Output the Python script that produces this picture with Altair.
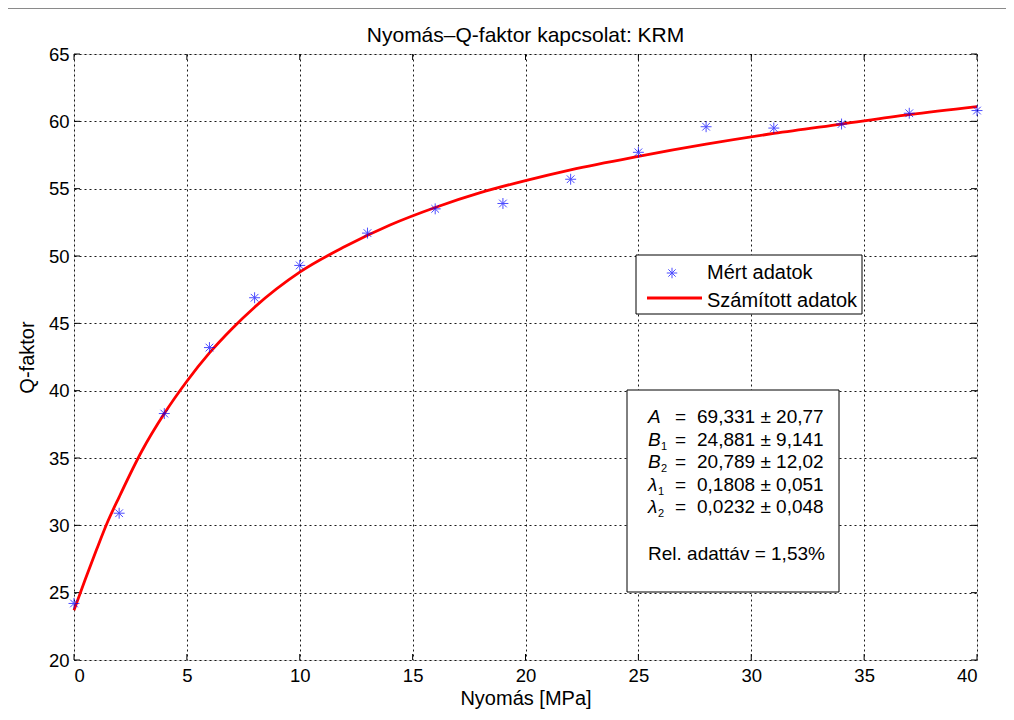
import altair as alt
import pandas as pd

# ---- data ----
pressure = [0, 2, 4, 6, 8, 10, 13, 16, 19, 22, 25, 28, 31, 34, 37, 40]
q_measured = [24.2, 30.9, 38.3, 43.2, 46.9, 49.3, 51.7, 53.5, 53.9, 55.7,
              57.7, 59.6, 59.5, 59.8, 60.6, 60.8]

fit_pressure = [0, 0.5, 1, 1.5, 2, 3, 4, 5, 6, 7, 8, 10, 12, 14, 16, 18,
                20, 22, 25, 28, 31, 34, 37, 40]
q_fit = [23.7, 26.0, 28.2, 30.3, 32.1, 35.5, 38.3, 40.7, 42.8, 44.6, 46.2,
         48.8, 50.7, 52.3, 53.6, 54.7, 55.6, 56.4, 57.4, 58.3, 59.1, 59.8,
         60.5, 61.1]

series_names = ["Mért adatok", "Számított adatok"]
param_symbols = ["A", "B", "B", "λ", "λ"]
param_subscripts = ["", "1", "2", "1", "2"]
param_values = ["69,331", "24,881", "20,789", "0,1808", "0,0232"]
param_errors = ["20,77", "9,141", "12,02", "0,051", "0,048"]
rel_range_label = "Rel. adattáv = 1,53%"

title_text = "Nyomás–Q-faktor kapcsolat: KRM"
x_title = "Nyomás [MPa]"
y_title = "Q-faktor"

x_ticks = list(range(0, 41, 5))
y_ticks = list(range(20, 66, 5))

# ---- layout / style ----
W, H = 903, 606
FONT = "Liberation Sans"
STAR = "M0,-1L0,1M-1,0L1,0M-0.7,-0.7L0.7,0.7M-0.7,0.7L0.7,-0.7"
BLUE = "#0000ff"
RED = "#ff0000"

df_pts = pd.DataFrame({"p": pressure, "q": q_measured})
df_fit = pd.DataFrame({"p": fit_pressure, "q": q_fit})
df_xt = pd.DataFrame({"p": x_ticks})
df_yt = pd.DataFrame({"q": y_ticks})
one = pd.DataFrame({"k": [0]})

xscale = alt.Scale(domain=[0, 40], nice=False, zero=False)
yscale = alt.Scale(domain=[20, 65], nice=False, zero=False)

xaxis = alt.Axis(values=x_ticks, title=x_title, grid=True, ticks=False, domain=False,
                 gridColor="black", gridDash=[2, 3], gridOpacity=0.9, gridWidth=1,
                 labelFont=FONT, labelFontSize=18.5, labelColor="black", labelPadding=6,
                 titleFont=FONT, titleFontSize=20, titleFontWeight="normal",
                 titleColor="black", titlePadding=4)
yaxis = alt.Axis(values=y_ticks, title=y_title, grid=True, ticks=False, domain=False,
                 gridColor="black", gridDash=[2, 3], gridOpacity=0.9, gridWidth=1,
                 labelFont=FONT, labelFontSize=18.5, labelColor="black", labelPadding=5,
                 titleFont=FONT, titleFontSize=20, titleFontWeight="normal",
                 titleColor="black", titlePadding=11)


def X(field="p"):
    return alt.X(f"{field}:Q", scale=xscale, axis=xaxis)


def Y(field="q"):
    return alt.Y(f"{field}:Q", scale=yscale, axis=yaxis)


# outer figure border (grey)
border = alt.Chart(one).mark_rect(fillOpacity=0, stroke="#8a8a8a", strokeWidth=2).encode(
    x=alt.value(-67), x2=alt.value(W + 120), y=alt.value(-46), y2=alt.value(H + 120))

# chart title
title = alt.Chart(one).mark_text(text=title_text, align="center", baseline="alphabetic",
                                 font=FONT, fontSize=21, color="black").encode(
    x=alt.value(W / 2), y=alt.value(-12))

# inward ticks on all four sides
tick_len = 6
t_bottom = alt.Chart(df_xt).mark_rule(color="black", strokeWidth=1).encode(
    x=X(), y=alt.value(H), y2=alt.value(H - tick_len))
t_top = alt.Chart(df_xt).mark_rule(color="black", strokeWidth=1).encode(
    x=X(), y=alt.value(0), y2=alt.value(tick_len))
t_left = alt.Chart(df_yt).mark_rule(color="black", strokeWidth=1).encode(
    y=Y(), x=alt.value(0), x2=alt.value(tick_len))
t_right = alt.Chart(df_yt).mark_rule(color="black", strokeWidth=1).encode(
    y=Y(), x=alt.value(W), x2=alt.value(W - tick_len))

fit_line = alt.Chart(df_fit).mark_line(color=RED, strokeWidth=2.8, interpolate="monotone").encode(
    x=X(), y=Y())

points = alt.Chart(df_pts).mark_point(shape=STAR, size=120, color=BLUE, filled=False,
                                      strokeWidth=1).encode(x=X(), y=Y())

# legend box
leg_box = alt.Chart(one).mark_rect(fill="white", stroke="black", strokeWidth=1).encode(
    x=alt.value(562), x2=alt.value(788), y=alt.value(201), y2=alt.value(260))
leg_star = alt.Chart(one).mark_point(shape=STAR, size=110, color=BLUE, filled=False,
                                     strokeWidth=1).encode(x=alt.value(598), y=alt.value(219))
leg_line = alt.Chart(one).mark_rule(color=RED, strokeWidth=2.8).encode(
    x=alt.value(573), x2=alt.value(628), y=alt.value(244))
leg_text = alt.Chart(one).mark_text(text=series_names, align="left", baseline="alphabetic",
                                    font=FONT, fontSize=20, lineHeight=28, color="black").encode(
    x=alt.value(633), y=alt.value(225))

# parameter box
par_box = alt.Chart(one).mark_rect(fill="white", stroke="black", strokeWidth=1).encode(
    x=alt.value(553), x2=alt.value(765), y=alt.value(336), y2=alt.value(538))
LH = 22.5
Y0 = 369
par_sym = alt.Chart(one).mark_text(text=param_symbols, align="left", baseline="alphabetic",
                                   font=FONT, fontSize=19, fontStyle="italic", lineHeight=LH,
                                   color="black").encode(x=alt.value(574), y=alt.value(Y0))

# subscripts: one small text per subscripted row
sub_layers = []
for i, (sym, sub) in enumerate(zip(param_symbols, param_subscripts)):
    if not sub:
        continue
    sx = 587 if sym == "B" else 584
    sub_layers.append(
        alt.Chart(one).mark_text(text=sub, align="left", baseline="alphabetic", font=FONT,
                                 fontSize=11, color="black").encode(
            x=alt.value(sx), y=alt.value(Y0 + 4 + i * LH)))

par_eq = alt.Chart(one).mark_text(text=["="] * len(param_symbols), align="left",
                                  baseline="alphabetic", font=FONT, fontSize=19, lineHeight=LH,
                                  color="black").encode(x=alt.value(601), y=alt.value(Y0))
par_val = alt.Chart(one).mark_text(text=[f"{v} ± {e}" for v, e in zip(param_values, param_errors)],
                                   align="left", baseline="alphabetic", font=FONT, fontSize=19,
                                   lineHeight=LH, color="black").encode(
    x=alt.value(623), y=alt.value(Y0))
par_rel = alt.Chart(one).mark_text(text=rel_range_label, align="left", baseline="alphabetic",
                                   font=FONT, fontSize=19, color="black").encode(
    x=alt.value(574), y=alt.value(506))

chart = alt.layer(
    border, title, t_bottom, t_top, t_left, t_right, fit_line, points,
    leg_box, leg_star, leg_line, leg_text,
    par_box, par_sym, *sub_layers, par_eq, par_val, par_rel,
).properties(
    width=W, height=H,
    autosize=alt.AutoSizeParams(type="none"),
    padding={"left": 66, "top": 46, "right": 29, "bottom": 52},
).configure_view(stroke="black", strokeWidth=2).configure(background="white")

chart.save("out.html", embed_options={"renderer": "svg", "actions": False})
